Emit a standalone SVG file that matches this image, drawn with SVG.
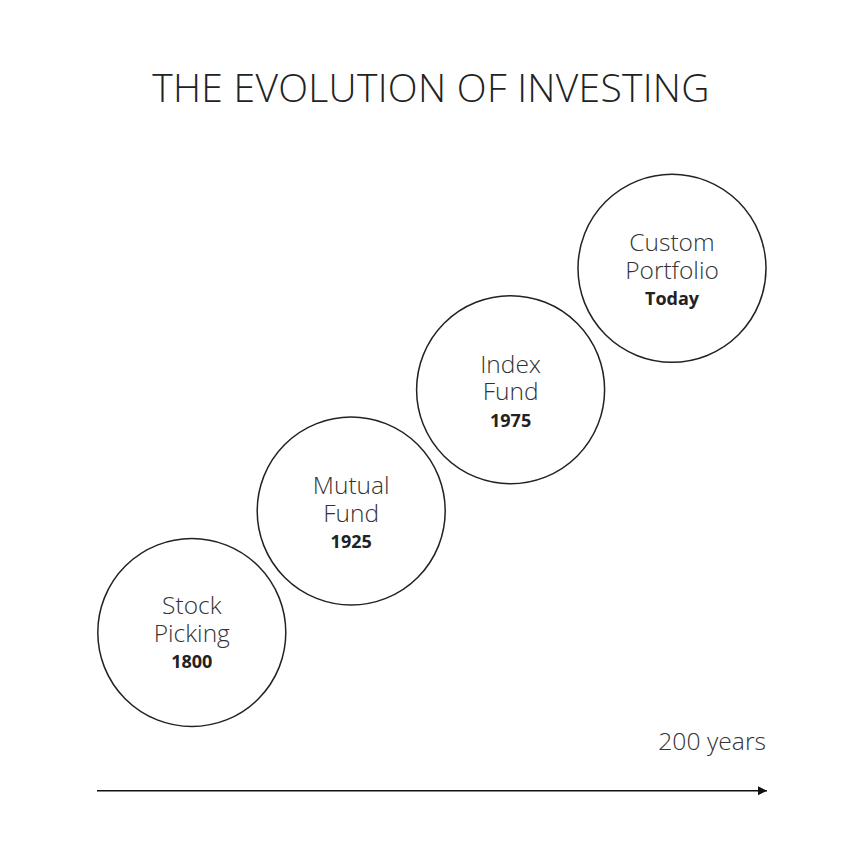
<svg xmlns="http://www.w3.org/2000/svg" width="864" height="865" viewBox="0 0 864 865">
<defs>
<style>
.c{fill:#fff;stroke:#222;stroke-width:1.5}
.t{font-family:"Open Sans","Noto Sans",sans-serif;font-size:24.5px;font-weight:300;fill:#333;text-anchor:middle}
.y{font-family:"Open Sans","Noto Sans",sans-serif;font-size:18px;font-weight:bold;fill:#222;text-anchor:middle}
</style>
<marker id="ah" markerWidth="10" markerHeight="10" refX="9" refY="5" orient="auto" markerUnits="userSpaceOnUse">
<path d="M0,0.5 L9,5 L0,9.5 Z" fill="#111"/>
</marker>
</defs>
<rect width="864" height="865" fill="#fff"/>
<text x="431" y="102" font-family="'Open Sans','Noto Sans',sans-serif" font-size="39" font-weight="300" fill="#222" text-anchor="middle" letter-spacing="0.3">THE EVOLUTION OF INVESTING</text>
<g id="node-stock">
<circle class="c" cx="191.8" cy="632.5" r="94"/>
<text class="t" x="191.8" y="614">Stock</text>
<text class="t" x="191.8" y="641.5">Picking</text>
<text class="y" x="191.8" y="668">1800</text>
</g>
<g id="node-mutual">
<circle class="c" cx="351.2" cy="511" r="94"/>
<text class="t" x="351.2" y="494">Mutual</text>
<text class="t" x="351.2" y="521.5">Fund</text>
<text class="y" x="351.2" y="548">1925</text>
</g>
<g id="node-index">
<circle class="c" cx="510.6" cy="389.7" r="94"/>
<text class="t" x="510.6" y="372.5">Index</text>
<text class="t" x="510.6" y="400">Fund</text>
<text class="y" x="510.6" y="426.5">1975</text>
</g>
<g id="node-custom">
<circle class="c" cx="672" cy="268.3" r="94"/>
<text class="t" x="672" y="251">Custom</text>
<text class="t" x="672" y="278.5">Portfolio</text>
<text class="y" x="672" y="305">Today</text>
</g>
<text x="766" y="749.5" font-family="'Open Sans','Noto Sans',sans-serif" font-size="24.7" font-weight="300" fill="#333" text-anchor="end">200 years</text>
<g id="connectors">
<line x1="97" y1="790.7" x2="767" y2="790.7" stroke="#111" stroke-width="1.5" marker-end="url(#ah)"/>
</g>
</svg>
